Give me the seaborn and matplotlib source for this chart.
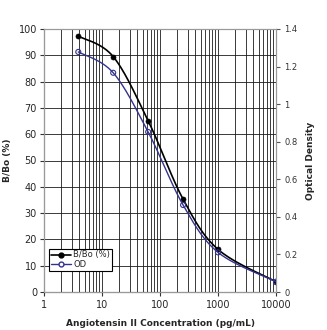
import numpy as np
import pandas as pd
import matplotlib
matplotlib.use("Agg")
import matplotlib.pyplot as plt
from matplotlib.lines import Line2D
import seaborn as sns

# ---- data ----
conc = [3.9, 15.6, 62.5, 250, 1000, 10000]
b_bo = [97.3, 89.5, 65.1, 35.3, 16.2, 3.9]
od = [1.278, 1.167, 0.852, 0.463, 0.211, 0.055]
x_ticks = [1, 10, 100, 1000, 10000]
x_tick_labels = ["1", "10", "100", "1000", "10000"]
left_ticks = [0, 10, 20, 30, 40, 50, 60, 70, 80, 90, 100]
right_ticks = [0, 0.2, 0.4, 0.6, 0.8, 1.0, 1.2, 1.4]
right_tick_labels = ["0", "0.2", "0.4", "0.6", "0.8", "1", "1.2", "1.4"]

sns.set_style("white")
plt.rcParams["font.family"] = ["DejaVu Sans"]

W, H = 327, 330
fig = plt.figure(figsize=(W / 100, H / 100), dpi=100)
x0, x1, yt, yb = 44, 276, 29, 292
ax = fig.add_axes([x0 / W, (H - yb) / H, (x1 - x0) / W, (yb - yt) / H])
ax2 = ax.twinx()


def smooth(xs, ys, ymax, n=40):
    """Excel-style smoothed path (Catmull-Rom Bezier) in display proportions."""
    u = np.log10(np.asarray(xs, float)) / 4.0 * (x1 - x0)
    v = np.asarray(ys, float) / ymax * (yb - yt)
    P = np.column_stack([u, v])
    P = np.vstack([P[0], P, P[-1]])
    out = []
    t = np.linspace(0, 1, n)[:, None]
    for i in range(1, len(P) - 2):
        p0, p1, p2, p3 = P[i - 1], P[i], P[i + 1], P[i + 2]
        c1 = p1 + (p2 - p0) / 6.0
        c2 = p2 - (p3 - p1) / 6.0
        seg = ((1 - t) ** 3) * p1 + 3 * ((1 - t) ** 2) * t * c1 + 3 * (1 - t) * t ** 2 * c2 + t ** 3 * p2
        out.append(seg if i == 1 else seg[1:])
    S = np.vstack(out)
    return 10 ** (S[:, 0] / (x1 - x0) * 4.0), S[:, 1] / (yb - yt) * ymax


black = "#000000"
navy = "#33338f"

df = pd.DataFrame({"conc": conc, "bbo": b_bo, "od": od})

sx, sy = smooth(conc, b_bo, 100)
ax.plot(sx, sy, color=black, lw=1.2, zorder=3)
sns.scatterplot(data=df, x="conc", y="bbo", ax=ax, color=black, s=13,
                edgecolor=black, linewidth=0.5, zorder=4, legend=False)

ox, oy = smooth(conc, od, 1.4)
ax2.plot(ox, oy, color=navy, lw=1.0, zorder=3)
sns.scatterplot(data=df, x="conc", y="od", ax=ax2, facecolor="none",
                edgecolor=navy, s=13, linewidth=0.8, zorder=4, legend=False)

for a in (ax, ax2):
    a.set_xscale("log")
    a.set_xlim(1, 10000)
ax.set_ylim(0, 100)
ax2.set_ylim(0, 1.4)

ax.set_xticks(x_ticks)
ax.set_xticklabels(x_tick_labels)
ax.set_yticks(left_ticks)
ax.set_yticklabels([str(v) for v in left_ticks])
ax2.set_yticks(right_ticks)
ax2.set_yticklabels(right_tick_labels)

ax.grid(True, which="major", axis="y", color="#1a1a1a", lw=0.6)
ax.grid(True, which="both", axis="x", color="#1a1a1a", lw=0.6)
ax.set_axisbelow(True)

ax.tick_params(axis="x", which="major", direction="out", length=3, width=0.8,
               labelsize=7, pad=3, color="#333333", bottom=True)
ax.tick_params(axis="x", which="minor", length=0)
ax.tick_params(axis="y", direction="out", length=3, width=0.8, labelsize=7,
               pad=2, color="#333333", left=True)
ax2.tick_params(axis="y", direction="out", length=3, width=0.8, labelsize=6,
                pad=3, color="#555555", right=True, labelcolor="#333333")

for a in (ax, ax2):
    for s in a.spines.values():
        s.set_color("#999999")
        s.set_linewidth(0.8)
ax.spines["left"].set_color("#333333")
ax.spines["bottom"].set_color("#333333")

ax.set_xlabel("Angiotensin II Concentration (pg/mL)", fontsize=6.5,
              fontweight="bold", labelpad=6)
ax.set_ylabel("B/Bo (%)", fontsize=6.5, fontweight="bold", labelpad=5)
ax2.set_ylabel("Optical Density", fontsize=6.5, fontweight="bold", labelpad=6)

handles = [
    Line2D([], [], color=black, lw=1.2, marker="o", markersize=3.5,
           markerfacecolor=black),
    Line2D([], [], color=navy, lw=1.0, marker="o", markersize=3.5,
           markerfacecolor="white", markeredgecolor=navy),
]
leg = ax2.legend(handles, ["B/Bo (%)", "OD"], loc="lower left",
                 bbox_to_anchor=(5 / (x1 - x0), 21 / (yb - yt)),
                 fontsize=6, frameon=True, fancybox=False, framealpha=1,
                 edgecolor="black", borderpad=0.2, labelspacing=0.1,
                 handlelength=2.4, handletextpad=0.3, borderaxespad=0)
leg.get_frame().set_linewidth(0.8)

fig.savefig("out.png", dpi=100)
